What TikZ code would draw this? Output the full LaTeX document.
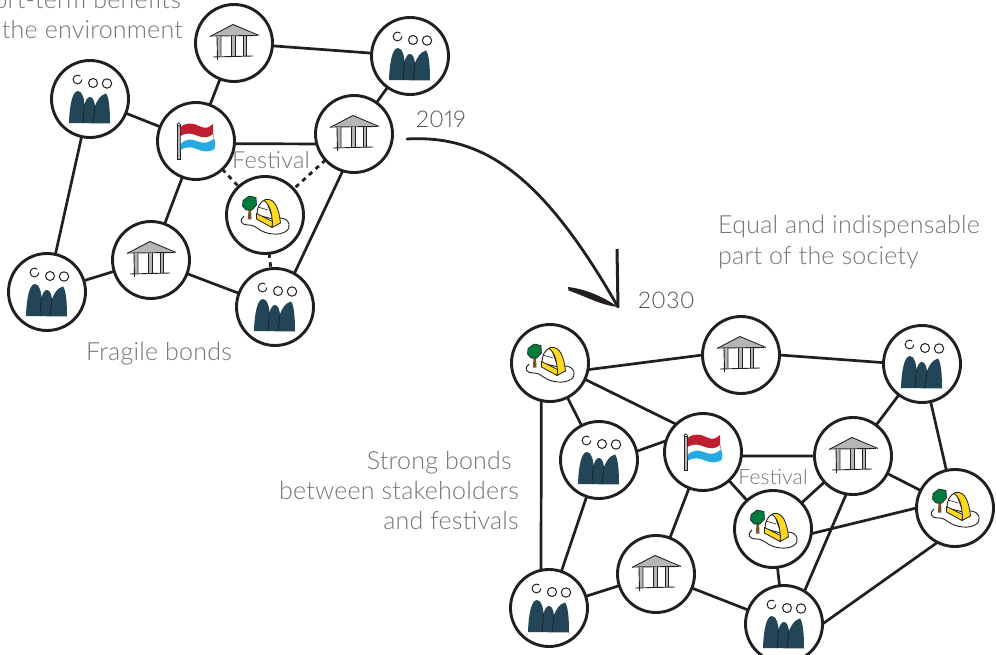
\documentclass[tikz,border=0pt]{standalone}
\usepackage{fontspec}
\setmainfont[LetterSpace=0.9,Numbers=Proportional]{Lato Light}
\definecolor{ink}{HTML}{231F20}
\definecolor{txt}{HTML}{747474}
\definecolor{txtdark}{HTML}{555555}
\definecolor{hump}{HTML}{234558}
\definecolor{roof}{HTML}{B4B6B8}
\definecolor{flagred}{HTML}{BE1E2D}
\definecolor{flagblue}{HTML}{27AAE1}
\definecolor{tentyellow}{HTML}{FFD91F}
\definecolor{treegreen}{HTML}{007A3D}
\definecolor{trunk}{HTML}{7A5230}
\tikzset{
  hub/.style={circle,draw=ink,line width=2.9pt,fill=white,minimum size=77pt,inner sep=0pt,outer sep=0pt},
  link/.style={draw=ink,line width=2.7pt},
  weak/.style={draw=ink,line width=2.8pt,dash pattern=on 4.5pt off 4.5pt},
  lbl/.style={text=txt,font=\fontsize{25}{30}\selectfont,inner sep=0pt},
  yearlbl/.style={text=txtdark,font=\fontsize{23}{30}\selectfont,inner sep=0pt},
  fest/.style={text=txt,font=\fontsize{23.5}{26}\selectfont,inner sep=0pt},
}
\newcommand{\factoryhub}[2]{%
  \node[hub] (#1) at (#2) {};
  \begin{scope}[shift={(#2)}]
    \draw[ink,line width=1pt] (-12.5,-19.5) ++(4.4,0) arc (0:310:4.4);
    \draw[ink,line width=1pt] (3,-16) circle (4.5);
    \draw[ink,line width=1pt] (17,-15.5) circle (4.7);
    \fill[hump] (-21,24) .. controls (-20.5,8) and (-18,-8) .. (-12,-8)
      .. controls (-7,-8) and (-5.5,2) .. (-5.5,6) .. controls (-4.5,1) and (-2.5,-2) .. (0,-2)
      .. controls (3,-2) and (4.5,3) .. (5,7) .. controls (7,2) and (10,-4) .. (16,-5.5)
      .. controls (19,-2) and (20,10) .. (20,24.5) -- cycle;
    \draw[ink,line width=.8pt] (-5.5,6) -- (-7,24);
    \draw[ink,line width=.8pt] (5,7) -- (3,24);
  \end{scope}}
\newcommand{\templehub}[2]{%
  \node[hub] (#1) at (#2) {};
  \begin{scope}[shift={(#2)}]
    \fill[roof] (-22,-7.5) -- (-1,-18.5) -- (23,-7.5) -- cycle;
    \draw[ink,line width=.9pt] (-24,-6.5) -- (-1,-18.5) -- (25,-7.5);
    \draw[ink,line width=.9pt] (-23,-7) -- (23,-7.5);
    \fill[roof] (-17,-7) rectangle (-13,13);
    \fill[roof] (-3,-7) rectangle (1,13);
    \fill[roof] (9,-7) rectangle (12,13);
    \draw[ink,line width=.9pt] (-17,-7) -- (-16.5,17) (-13,-7) -- (-13,13);
    \draw[ink,line width=.9pt] (-3,-7) -- (-3,14) (1,-7) -- (1,13);
    \draw[ink,line width=.9pt] (9,-7) -- (9,13) (12.5,-7) -- (12.5,13);
    \draw[ink,line width=.9pt] (-21,14) -- (19,13);
  \end{scope}}
\newcommand{\flaghub}[2]{%
  \node[hub] (#1) at (#2) {};
  \begin{scope}[shift={(#2)}]
    \fill[roof,draw=ink,line width=.6pt] (-18.3,-16) rectangle (-16.2,18);
    \filldraw[white,draw=ink,line width=.6pt] (-17.2,-16.5) circle (1.7);
    \fill[flagred] (-15.5,-14) .. controls (-9,-19) and (-3,-18) .. (3,-15) .. controls (9,-12) and (13,-13) .. (17,-17)
      -- (17,-7) .. controls (12,-3) and (8,-3) .. (2,-5) .. controls (-4,-7.5) and (-9,-9) .. (-15.5,-5) -- cycle;
    \fill[flagblue] (-15.5,3) .. controls (-9,-3) and (-4,-2) .. (2,0.5) .. controls (8,3) and (13,2) .. (18,-2.5)
      .. controls (20,2) and (19.5,6) .. (18,8.5) .. controls (12,11) and (8,11) .. (2,8.5) .. controls (-4,6) and (-9,5) .. (-15.5,9) -- cycle;
    \draw[ink!70,line width=.4pt] (-15.5,-5) -- (-15.5,3);
    \draw[ink!70,line width=.4pt] (17,-7) -- (18,-2.5);
  \end{scope}}
\newcommand{\festhub}[2]{%
  \node[hub] (#1) at (#2) {};
  \begin{scope}[shift={(#2)}]
    \draw[ink,line width=.9pt] (-21,1) .. controls (-26,5) and (-25,10) .. (-16,10)
      .. controls (-8,10) and (-6,18) .. (8,19) .. controls (18,20) and (26,15) .. (24,9)
      .. controls (23,5) and (19,3) .. (15,3);
    \fill[trunk] (-16.5,-7) -- (-14,-7) -- (-13.5,4.5) -- (-17,4.5) -- cycle;
    \fill[treegreen,draw=ink,line width=.6pt] (-22,-14.5) -- (-16,-19) -- (-9,-17.5) -- (-8.5,-10) -- (-13,-5) -- (-19,-5) -- (-22.5,-9) -- cycle;
    \fill[white,draw=ink,line width=.9pt] (-8,0) .. controls (-8,-7) and (-6,-13) .. (1,-15.5) -- (8,4) -- cycle;
    \draw[ink,line width=.6pt] (-7,-8) -- (3,-5);
    \fill[tentyellow,draw=ink,line width=.8pt] (1,-15.5) .. controls (10,-17) and (14,-6) .. (15.5,8)
      -- (7,12.5) .. controls (8,3) and (6,-10) .. (-1,-14.5) -- cycle;
    \fill[tentyellow,draw=ink,line width=.8pt] (-8.5,-1.5) -- (7.5,6.5) -- (7,12.5) -- (-8.5,4) -- cycle;
  \end{scope}}
\begin{document}
\begin{tikzpicture}[x=1pt,y=-1pt]
\useasboundingbox (0,0) rectangle (996,655);
% 2019 network
\factoryhub{a1}{90,99}
\templehub{a2}{234,43}
\factoryhub{a3}{410,56}
\flaghub{a4}{196,141}
\templehub{a5}{354,134}
\festhub{a6}{265,215}
\factoryhub{a7}{47,292}
\templehub{a8}{151,260}
\factoryhub{a9}{275,307}
\draw[link] (a1) -- (a4);
\draw[link] (a2) -- (a4);
\draw[link] (a2) -- (a3);
\draw[link] (a5) -- (a3);
\draw[link] (a4.-4) -- (a5.195);
\draw[link] (a1) -- (a7);
\draw[link] (a4) -- (a8);
\draw[link] (a7) -- (a8);
\draw[link] (a8) -- (a9);
\draw[link] (a5.253) -- (a9.60);
\draw[weak] (a4) -- (a6);
\draw[weak] (a5) -- (a6);
\draw[weak] (a6) -- (a9);
% 2030 network
\festhub{b1}{550,363}
\templehub{b2}{741,355}
\factoryhub{b3}{922,364}
\flaghub{b4}{703,452}
\templehub{b5}{853,456}
\factoryhub{b6}{599,460}
\festhub{b7}{773,529}
\festhub{b8}{955,508}
\factoryhub{b9}{549,608}
\templehub{b10}{656,574}
\factoryhub{b11}{784,624}
\draw[link] (b1.-10) -- (b2.180);
\draw[link] (b2.0) -- (b3.178);
\draw[link] (b1.-25) -- (b4.134);
\draw[link] (b1) -- (b6);
\draw[link] (b1.257) -- (b9.102);
\draw[link] (b6.13) -- (b4.163);
\draw[link] (b6) -- (b9);
\draw[link] (b4.-6) -- (b5.180);
\draw[link] (b4) -- (b10);
\draw[link] (b4) -- (b7);
\draw[link] (b10) -- (b9);
\draw[link] (b10) -- (b11);
\draw[link] (b5) -- (b3);
\draw[link] (b5) -- (b7);
\draw[link] (b5) -- (b8);
\draw[link] (b3) -- (b8);
\draw[link] (b7.-7) -- (b8.180);
\draw[link] (b7) -- (b11);
\draw[link] (b5.260) -- (b11.58);
\draw[link] (b8.243) -- (b11.0);
% transition arrow
\coordinate (arrowstart) at (407,139);
\coordinate (arrowtip) at (618,307);
\draw[ink,line width=2.8pt,line cap=round] (arrowstart) .. controls (480,135) and (540,170) .. (arrowtip);
\draw[ink,line width=3pt] (617,249) -- (arrowtip);
\fill[ink] (568,287) .. controls (585,289) and (602,296) .. (arrowtip) .. controls (600,305) and (585,296) .. (568.5,290.5) -- cycle;
% labels
\node[lbl,anchor=base east] (t1) at (181,9) {ort-term benefits};
\node[lbl,anchor=base east] (t2) at (183,39) {the environment};
\node[lbl,anchor=base west] (t3) at (86,360) {Fragile bonds};
\node[yearlbl,anchor=base west] (t4) at (416,128) {2019};
\node[yearlbl,anchor=base west] (t5) at (638,308) {2030};
\node[lbl,anchor=base west] (t6) at (718,234) {Equal and indispensable};
\node[lbl,anchor=base west] (t7) at (718,264) {part of the society};
\node[lbl,anchor=base east] (t8) at (512,469) {Strong bonds};
\node[lbl,anchor=base east] (t9) at (519,499) {between stakeholders};
\node[lbl,anchor=base east] (t10) at (519,529) {and festivals};
\node[fest,anchor=base] (t11) at (271,169) {Festival};
\node[fest,anchor=base,font=\fontsize{21}{24}\selectfont] (t12) at (773,484) {Festival};
\end{tikzpicture}
\end{document}
